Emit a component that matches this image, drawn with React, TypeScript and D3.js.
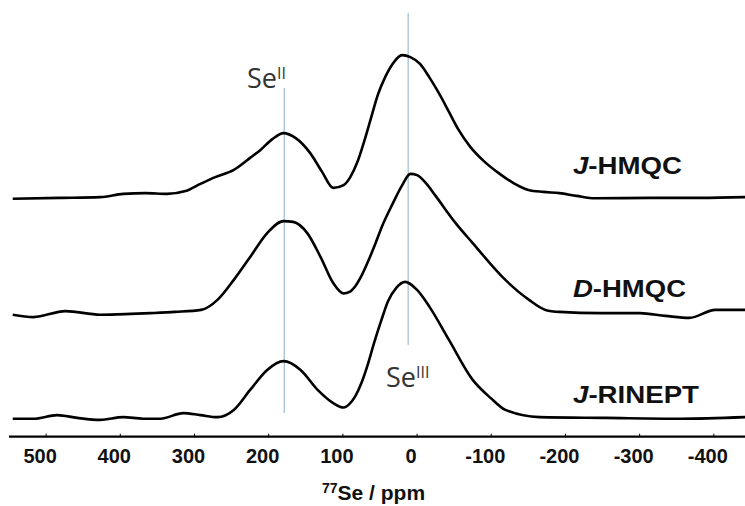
import React from 'react';
import * as d3 from 'd3';

// chemical shift (ppm) and intensity above each trace's own baseline
const jHmqc: [number, number][] = [
  [545, 0], [481, 0.2], [427, 0.4], [396, 1.2], [366, 1.4], [337, 1.2], [312, 1.9],
  [292, 3.7], [272, 5.4], [247, 7.2], [225, 10.2], [211, 12.2], [195, 14.9], [180, 16.4],
  [164, 15.2], [144, 11.4], [128, 6.7], [113, 2.7], [99, 3.4], [90, 5.4], [81, 8.9],
  [72, 13.9], [62, 20.2], [53, 25.9], [43, 30.4], [33, 33.7], [20, 35.9], [9, 35.4], [-4, 33.7],
  [-17, 30.2], [-30, 26.2], [-43, 21.7], [-56, 17.2], [-72, 12.9], [-90, 9.4], [-110, 6.4],
  [-130, 3.9], [-150, 2.2], [-170, 1.7], [-192, 1.4], [-215, 0.7], [-240, 0.1],
  [-314, 0.2], [-382, 0.2], [-442, 0.4],
];

const dHmqc: [number, number][] = [
  [545, 0], [517, -0.6], [474, 0.9], [427, 0], [386, 0.2], [359, 0.4], [326, 0.7],
  [291, 1.2], [269, 3.7], [247, 8.7], [225, 14.4], [202, 20.4], [180, 23.4], [167, 23.2],
  [148, 20.4], [130, 14.4], [113, 7.9], [99, 5.3], [91, 5.7], [83, 7.2], [75, 9.7],
  [67, 12.9], [58, 16.9], [47, 22.2], [33, 27.7], [20, 32.4], [9, 35.2], [0, 34.9],
  [-12, 32.9], [-25, 29.7], [-52, 22.9], [-75, 17.9], [-119, 8.7], [-151, 3.7], [-173, 1.2],
  [-192, 0.7], [-247, 0.4], [-300, 0.4], [-335, -0.3], [-367, -0.8], [-402, 1.2], [-442, 1.2],
];

const jRinept: [number, number][] = [
  [545, 0], [517, 0], [485, 0.9], [458, 0.2], [427, -0.3], [396, 0.4], [369, 0], [346, 0],
  [315, 1.4], [292, 0.9], [269, 0.4], [247, 2.2], [225, 7.2], [202, 12.2], [180, 14.4],
  [157, 12.2], [134, 7.2], [113, 3.9], [99, 2.8], [91, 3.7], [83, 5.7], [75, 8.9],
  [67, 13.2], [58, 18.9], [48, 24.7], [39, 29.4], [28, 32.7], [16, 34.2], [0, 32.2],
  [-17, 27.9], [-43, 19.7], [-75, 9.7], [-99, 5.2], [-119, 2.2], [-165, 0.4], [-254, 0.2],
  [-355, 0], [-442, 0.4],
];

const traceNames = ['J-HMQC', 'D-HMQC', 'J-RINEPT'];
const traceOffsets = [59.5, 30.5, 4.5];
const traces = [jHmqc, dHmqc, jRinept];

const xTicks = [500, 400, 300, 200, 100, 0, -100, -200, -300, -400];
const siteShifts = [179, 12]; // Se(II), Se(III)

const W = 745;
const H = 506;

export default function App() {
  const x = d3.scaleLinear().domain([550, -442]).range([9, 745]);
  const y = d3.scaleLinear().domain([0, 100]).range([436.7, 36.7]);

  const axisY = y(0);
  const boldFont = '"Liberation Sans", Arial, sans-serif';
  const plainFont = '"Open Sans", "Noto Sans", sans-serif';

  // ppm runs right-to-left, points are already in increasing pixel order
  const paths = traces.map((pts, i) =>
    d3.line<[number, number]>()
      .x(d => x(d[0]))
      .y(d => y(d[1] + traceOffsets[i]))
      .curve(d3.curveMonotoneX)(pts) || ''
  );

  const labelY = [174, 297, 403];
  const labelLen = [109, 113, 126];

  return (
    <svg width={W} height={H} style={{ position: 'absolute', left: 0, top: 0, background: '#fff' }}>
      {/* site markers */}
      <line x1={x(siteShifts[0])} x2={x(siteShifts[0])} y1={88} y2={413} stroke="#9fbcd4" strokeWidth={1.2} />
      <line x1={x(siteShifts[1])} x2={x(siteShifts[1])} y1={13} y2={345} stroke="#9fbcd4" strokeWidth={1.2} />

      {paths.map((d, i) => (
        <path key={traceNames[i]} d={d} fill="none" stroke="#000" strokeWidth={2.6} strokeLinejoin="round" />
      ))}

      {/* axis */}
      <line x1={9} x2={745} y1={axisY} y2={axisY} stroke="#000" strokeWidth={2.2} />
      {xTicks.map(t => (
        <g key={t}>
          <line x1={x(t)} x2={x(t)} y1={axisY} y2={axisY - 3} stroke="#000" strokeWidth={1} />
          <text x={x(t) - 6} y={463} textAnchor="middle" fontFamily={boldFont} fontWeight="bold" fontSize={20} fill="#111">
            {t}
          </text>
        </g>
      ))}
      <text x={322} y={500} fontFamily={boldFont} fontWeight="bold" fontSize={21} fill="#111">
        <tspan fontSize={14} dy={-7}>77</tspan>
        <tspan dy={7}>Se / ppm</tspan>
      </text>

      {/* trace labels */}
      {traceNames.map((name, i) => (
        <text key={name} x={573} y={labelY[i]} fontFamily={boldFont} fontWeight="bold" fontSize={24}
          fill="#111" textLength={labelLen[i]} lengthAdjust="spacingAndGlyphs">
          <tspan fontStyle="italic">{name.slice(0, 1)}</tspan>{name.slice(1)}
        </text>
      ))}

      {/* site labels */}
      <text x={247} y={88} fontFamily={plainFont} fontSize={27} fill="#333">
        Se<tspan fontSize={16} dy={-9}>II</tspan>
      </text>
      <text x={386} y={387} fontFamily={plainFont} fontSize={27} fill="#333">
        Se<tspan fontSize={16} dy={-9}>III</tspan>
      </text>
    </svg>
  );
}
